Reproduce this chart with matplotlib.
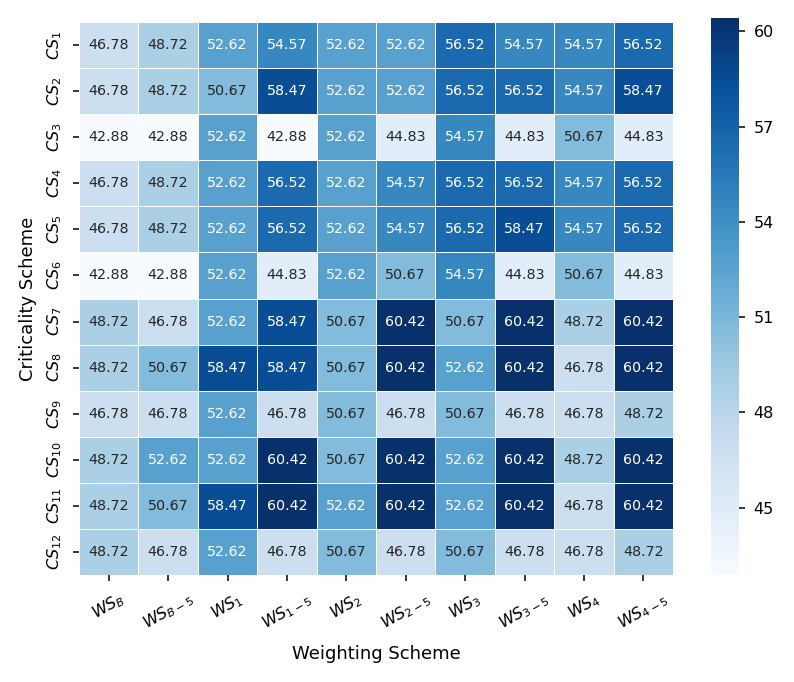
import matplotlib
matplotlib.use("Agg")
import matplotlib.pyplot as plt
import numpy as np
import seaborn as sns

# weighting schemes (columns) and criticality schemes (rows)
ws_labels = [r"$WS_B$", r"$WS_{B-5}$", r"$WS_1$", r"$WS_{1-5}$", r"$WS_2$",
             r"$WS_{2-5}$", r"$WS_3$", r"$WS_{3-5}$", r"$WS_4$", r"$WS_{4-5}$"]
cs_labels = [r"$CS_{%d}$" % i for i in range(1, 13)]

cs1 = [46.78, 48.72, 52.62, 54.57, 52.62, 52.62, 56.52, 54.57, 54.57, 56.52]
cs2 = [46.78, 48.72, 50.67, 58.47, 52.62, 52.62, 56.52, 56.52, 54.57, 58.47]
cs3 = [42.88, 42.88, 52.62, 42.88, 52.62, 44.83, 54.57, 44.83, 50.67, 44.83]
cs4 = [46.78, 48.72, 52.62, 56.52, 52.62, 54.57, 56.52, 56.52, 54.57, 56.52]
cs5 = [46.78, 48.72, 52.62, 56.52, 52.62, 54.57, 56.52, 58.47, 54.57, 56.52]
cs6 = [42.88, 42.88, 52.62, 44.83, 52.62, 50.67, 54.57, 44.83, 50.67, 44.83]
cs7 = [48.72, 46.78, 52.62, 58.47, 50.67, 60.42, 50.67, 60.42, 48.72, 60.42]
cs8 = [48.72, 50.67, 58.47, 58.47, 50.67, 60.42, 52.62, 60.42, 46.78, 60.42]
cs9 = [46.78, 46.78, 52.62, 46.78, 50.67, 46.78, 50.67, 46.78, 46.78, 48.72]
cs10 = [48.72, 52.62, 52.62, 60.42, 50.67, 60.42, 52.62, 60.42, 48.72, 60.42]
cs11 = [48.72, 50.67, 58.47, 60.42, 52.62, 60.42, 52.62, 60.42, 46.78, 60.42]
cs12 = [48.72, 46.78, 52.62, 46.78, 50.67, 46.78, 50.67, 46.78, 46.78, 48.72]

data = np.array([cs1, cs2, cs3, cs4, cs5, cs6, cs7, cs8, cs9, cs10, cs11, cs12])
cbar_ticks = [45, 48, 51, 54, 57, 60]

fig = plt.figure(figsize=(7.94, 6.82), dpi=100)
ax = fig.add_axes([79 / 794, 107 / 682, 594 / 794, 553 / 682])
cax = fig.add_axes([711 / 794, 107 / 682, 28 / 794, 557 / 682])

sns.heatmap(data, ax=ax, cbar_ax=cax, cmap="Blues", annot=True, fmt=".2f",
            linewidths=0.7, linecolor="white",
            annot_kws={"size": 10.3},
            xticklabels=ws_labels, yticklabels=cs_labels,
            cbar_kws={"ticks": cbar_ticks})

ax.set_xticklabels(ws_labels, rotation=30, fontsize=11.5)
ax.set_yticklabels(cs_labels, rotation=90, fontsize=11.5, va="center")
ax.tick_params(length=4.5, width=1.1, pad=6)
ax.set_xlabel("Weighting Scheme", fontsize=13, labelpad=8)
ax.set_ylabel("Criticality Scheme", fontsize=13, labelpad=6)
cax.tick_params(labelsize=11.5, length=4.5, width=1.1, pad=6)
cax.set_frame_on(False)

fig.savefig("out.png", dpi=100)
